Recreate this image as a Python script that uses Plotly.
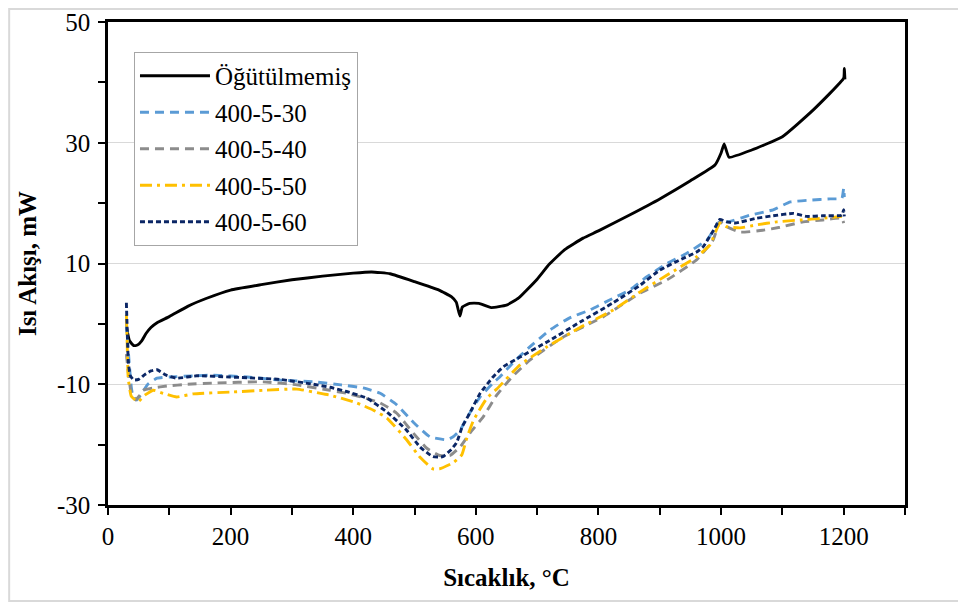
import plotly.graph_objects as go

# DSC curves (temperature in °C, heat flow in mW)
t_raw = [30, 35, 42, 48, 55, 62, 70, 80, 100, 130, 160, 200, 250, 300, 350, 400, 430, 460,
         500, 540, 560, 568, 574, 578, 590, 605, 625, 650, 670, 700, 720, 745, 775, 800, 850, 900,
         950, 990, 1000, 1005, 1013, 1050, 1100, 1150, 1200, 1201, 1202]
hf_raw = [-0.5, -2.8, -3.6, -3.5, -2.8, -1.6, -0.6, 0.2, 1.2, 2.9, 4.2, 5.6, 6.5, 7.3, 7.9, 8.4, 8.6, 8.3,
          7.0, 5.6, 4.5, 3.6, 1.3, 2.8, 3.4, 3.4, 2.7, 3.1, 4.3, 7.4, 9.9, 12.3, 14.2, 15.4, 18.0, 20.7,
          23.7, 26.3, 28.3, 29.8, 27.6, 28.8, 31.0, 35.4, 40.7, 42.3, 40.5]

t_30 = [30, 32, 35, 38, 41, 47, 55, 65, 80, 100, 140, 172, 227, 280, 335, 380, 416, 444, 471,
        498, 525, 553, 563, 575, 585, 607, 628, 639, 660, 688, 721, 753, 786, 819, 851, 879,
        912, 944, 977, 995, 1003, 1011, 1047, 1085, 1113, 1145, 1178, 1197, 1200, 1201]
hf_30 = [0.0, -3.0, -7.0, -10.5, -12.1, -12.6, -11.5, -10.0, -9.0, -8.8, -8.6, -8.5, -8.8, -9.3, -9.6,
         -10.1, -10.6, -11.5, -13.4, -16.3, -18.7, -19.2, -18.7, -17.5, -15.6, -12.1, -9.8, -8.8, -6.5,
         -3.8, -1.0, 1.0, 2.3, 4.0, 5.6, 7.8, 10.0, 11.7, 13.9, 16.7, 17.2, 16.9, 18.0, 18.9, 20.2,
         20.5, 20.7, 20.8, 22.5, 21.0]

t_40 = [30, 33, 38, 45, 52, 57, 74, 96, 130, 172, 253, 308, 362, 389, 416, 444, 471, 498, 520,
        541, 558, 575, 591, 612, 634, 659, 688, 742, 808, 868, 912, 960, 987, 998, 1009, 1031,
        1068, 1096, 1134, 1166, 1197, 1200]
hf_40 = [-5.0, -8.0, -11.5, -12.6, -11.8, -11.0, -10.6, -10.3, -10.0, -9.8, -9.6, -10.1, -11.0, -11.5,
         -12.2, -13.1, -14.8, -18.1, -20.6, -21.8, -21.8, -20.3, -18.0, -15.4, -11.8, -8.8, -6.0,
         -2.2, 1.2, 5.1, 7.3, 10.6, 13.9, 16.9, 16.1, 15.2, 15.5, 16.0, 16.9, 17.2, 17.5, 16.7]

t_50 = [30, 31, 33, 38, 49, 60, 74, 90, 112, 139, 199, 253, 308, 351, 362, 406, 433, 455, 487,
        509, 530, 541, 563, 577, 585, 596, 618, 635, 672, 716, 770, 824, 868, 912, 960, 982,
        998, 1009, 1031, 1058, 1091, 1129, 1166, 1197]
hf_50 = [1.5, -2.0, -9.0, -12.0, -12.9, -11.8, -11.0, -11.5, -12.1, -11.6, -11.3, -11.0, -10.8, -11.6,
         -11.8, -13.1, -14.3, -15.6, -19.2, -22.1, -24.0, -24.0, -23.0, -21.7, -19.0, -16.0, -12.3,
         -10.7, -6.8, -3.8, -0.6, 2.3, 5.3, 8.1, 11.1, 13.1, 16.7, 16.1, 15.9, 16.4, 16.9, 17.2,
         17.5, 17.8]

t_60 = [30, 31, 33, 36, 42, 50, 60, 70, 80, 95, 112, 145, 199, 280, 335, 362, 389, 422, 455,
        487, 509, 530, 546, 560, 569, 578, 590, 607, 628, 645, 672, 716, 770, 824, 868, 900,
        933, 960, 971, 990, 998, 1009, 1023, 1058, 1085, 1118, 1140, 1166, 1197, 1200, 1201]
hf_60 = [3.5, 0.0, -6.0, -8.5, -9.3, -9.2, -8.4, -7.8, -7.6, -8.5, -9.0, -8.6, -8.8, -9.2, -10.0,
         -10.5, -11.2, -12.3, -14.6, -17.6, -20.4, -22.0, -22.0, -20.8, -19.6, -17.0, -14.8, -11.5,
         -8.8, -7.1, -5.5, -3.0, 0.3, 3.5, 6.4, 8.9, 10.6, 11.9, 12.8, 15.9, 17.3, 16.9, 16.7, 17.5,
         17.9, 18.3, 17.8, 17.9, 18.0, 18.9, 17.8]

# y tick labels with a plain hyphen, as in the original
y_ticks = [-30, -10, 10, 30, 50]
y_ticktext = ["-30", "-10", "10", "30", "50"]

series = [
    ("Öğütülmemiş", t_raw, hf_raw, "#000000", "solid"),
    ("400-5-30", t_30, hf_30, "#5B9BD5", "9px,6px"),
    ("400-5-40", t_40, hf_40, "#8C8C8C", "9px,6px"),
    ("400-5-50", t_50, hf_50, "#FFC000", "12px,5px,3px,5px"),
    ("400-5-60", t_60, hf_60, "#0B2665", "5px,3px"),
]

FONT = "Times New Roman, Liberation Serif, serif"

fig = go.Figure()
for i, (name, t, hf, color, dash) in enumerate(series):
    fig.add_trace(go.Scatter(
        x=t, y=hf, name=name, mode="lines", legendgroup=f"g{i}",
        line=dict(color=color, width=2.9, dash=dash, shape="spline", smoothing=0.4),
    ))

axis_common = dict(
    showline=True, linecolor="black", linewidth=2.5, mirror=True,
    ticks="outside", ticklen=7, tickwidth=2, tickcolor="black",
    tickfont=dict(family=FONT, size=25, color="black"),
    zeroline=False, automargin=False,
)

fig.update_xaxes(
    range=[0, 1300], dtick=200, tick0=0, showgrid=False,
    minor=dict(dtick=100, ticks="outside", ticklen=7, tickwidth=2, tickcolor="black", showgrid=False),
    title=dict(text="<b>Sıcaklık, °C</b>", font=dict(family=FONT, size=25, color="black"), standoff=20),
    **axis_common,
)
fig.update_yaxes(
    range=[-30, 50], tickmode="array", tickvals=y_ticks, ticktext=y_ticktext,
    showgrid=True, gridcolor="#D9D9D9", gridwidth=1,
    minor=dict(dtick=10, tick0=0, ticks="outside", ticklen=7, tickwidth=2, tickcolor="black", showgrid=False),
    ticklabelstandoff=3,
    title=dict(text="<b>Isı Akışı, mW</b>", font=dict(family=FONT, size=25, color="black"), standoff=14),
    **axis_common,
)

# light grey outer chart border, as in the spreadsheet export
fig.add_shape(type="rect", xref="paper", yref="paper",
              x0=-0.124, x1=1.0728, y0=-0.1988, y1=1.027,
              line=dict(color="#D9D9D9", width=2), layer="below")

fig.update_layout(
    width=966, height=605,
    margin=dict(l=100, r=69, t=14, b=108),
    plot_bgcolor="white", paper_bgcolor="white",
    font=dict(family=FONT, color="black"),
    showlegend=True,
    legend=dict(
        x=0.0326, y=0.938, xanchor="left", yanchor="top",
        bgcolor="white", bordercolor="#A6A6A6", borderwidth=1,
        font=dict(family=FONT, size=25, color="black"),
        traceorder="grouped", tracegroupgap=1, itemwidth=70,
    ),
)

fig.write_html("out.html")
